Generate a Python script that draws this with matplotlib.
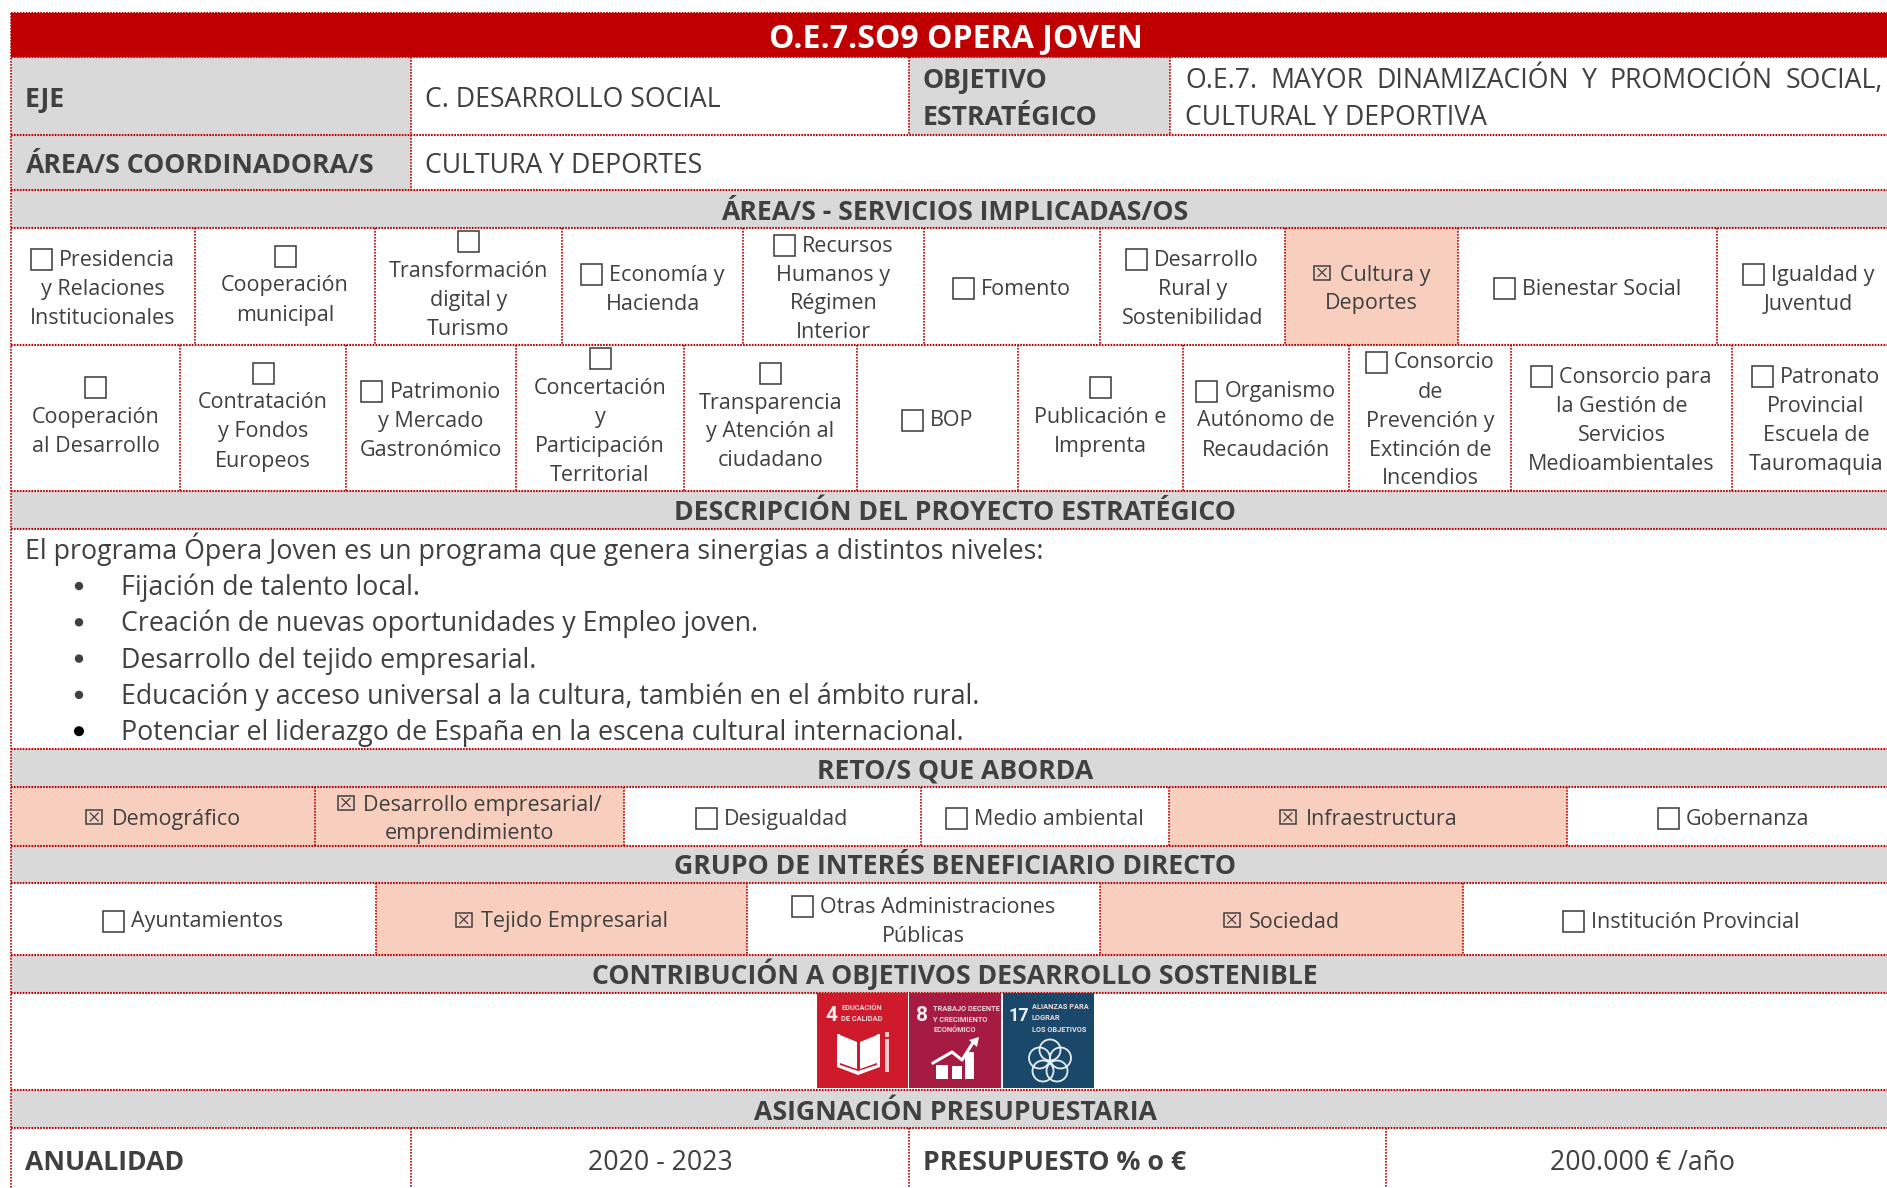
import matplotlib
matplotlib.use("Agg")
import matplotlib.pyplot as plt
from matplotlib.patches import Rectangle, Polygon, Circle

# set constants
W = 1887; H = 1188; TABLE_RIGHT = 1900
RED = "#C00000"; GREY = "#D9D9D9"; PEACH = "#F8CFBE"; INK = "#404040"
FONT = "Open Sans"; TILE_FONT = "Roboto"
BODY = 15.45; BIG = 19.2; LABEL = 19.2; DESC = 19.3; TITLE = 23.0

# --- data (text only) --- #
title = "O.E.7.SO9 OPERA JOVEN"
headers = ["ÁREA/S - SERVICIOS IMPLICADAS/OS", "DESCRIPCIÓN DEL PROYECTO ESTRATÉGICO",
           "RETO/S QUE ABORDA", "GRUPO DE INTERÉS BENEFICIARIO DIRECTO",
           "CONTRIBUCIÓN A OBJETIVOS DESARROLLO SOSTENIBLE", "ASIGNACIÓN PRESUPUESTARIA"]

# a leading \n means the checkbox sits alone on its own line
services_1 = ["Presidencia\ny Relaciones\nInstitucionales", "\nCooperación\nmunicipal",
              "\nTransformación\ndigital y\nTurismo", "Economía y\nHacienda",
              "Recursos\nHumanos y\nRégimen\nInterior", "Fomento",
              "Desarrollo\nRural y\nSostenibilidad", "Cultura y\nDeportes",
              "Bienestar Social", "Igualdad y\nJuventud"]
services_1_on = [0, 0, 0, 0, 0, 0, 0, 1, 0, 0]
services_2 = ["\nCooperación\nal Desarrollo", "\nContratación\ny Fondos\nEuropeos",
              "Patrimonio\ny Mercado\nGastronómico", "\nConcertación\ny\nParticipación\nTerritorial",
              "\nTransparencia\ny Atención al\nciudadano", "BOP", "\nPublicación e\nImprenta",
              "Organismo\nAutónomo de\nRecaudación", "Consorcio\nde\nPrevención y\nExtinción de\nIncendios",
              "Consorcio para\nla Gestión de\nServicios\nMedioambientales",
              "Patronato\nProvincial\nEscuela de\nTauromaquia"]
services_2_on = [0] * 11
retos = ["Demográfico", "Desarrollo empresarial/\nemprendimiento", "Desigualdad",
         "Medio ambiental", "Infraestructura", "Gobernanza"]
retos_on = [1, 1, 0, 0, 1, 0]
grupos = ["Ayuntamientos", "Tejido Empresarial", "Otras Administraciones\nPúblicas",
          "Sociedad", "Institución Provincial"]
grupos_on = [0, 1, 0, 1, 0]
intro = "El programa Ópera Joven es un programa que genera sinergias a distintos niveles:"
bullets = ["Fijación de talento local.", "Creación de nuevas oportunidades y Empleo joven.",
           "Desarrollo del tejido empresarial.",
           "Educación y acceso universal a la cultura, también en el ámbito rural.",
           "Potenciar el liderazgo de España en la escena cultural internacional."]
objective_1 = "O.E.7. MAYOR DINAMIZACIÓN Y PROMOCIÓN SOCIAL,"
objective_2 = "CULTURAL Y DEPORTIVA"

# --- layout (pixels) --- #
service_1_x = [11, 195, 375, 562, 743, 924, 1100, 1285, 1458, 1717, TABLE_RIGHT]
service_2_x = [11, 180, 346, 516, 684, 857, 1018, 1183, 1349, 1511, 1732, TABLE_RIGHT]
retos_x = [11, 315, 624, 921, 1169, 1567, TABLE_RIGHT]
grupos_x = [11, 376, 747, 1100, 1463, TABLE_RIGHT]
header_y = [(190, 228), (491, 529), (749, 787), (846, 883), (955, 993), (1090, 1128)]

fig = plt.figure(figsize=(W / 100, H / 100), dpi=100, facecolor="white")
ax = fig.add_axes([0, 0, 1, 1])
ax.set_xlim(0, W); ax.set_ylim(H, 0); ax.axis("off")
renderer = fig.canvas.get_renderer()


def label(x, y, s, size=BODY, weight="normal", color=INK, ha="left"):
    return ax.text(x, y, s, fontsize=size, fontweight=weight, color=color, ha=ha, va="baseline",
                   family=[FONT, "DejaVu Sans"], zorder=5)


def width(s, size=BODY, weight="normal"):
    t = label(0, 0, s, size, weight)
    w = t.get_window_extent(renderer).width
    t.remove()
    return w


def fill(x0, y0, x1, y1, color):
    ax.add_patch(Rectangle((x0, y0), x1 - x0, y1 - y0, fc=color, ec="none", zorder=1))


def hline(y, x0=11, x1=TABLE_RIGHT):
    ax.plot([x0, x1], [y, y], color=RED, lw=1.5, ls=(0, (0.8, 0.6)), zorder=3)


def vline(x, y0, y1):
    ax.plot([x, x], [y0, y1], color=RED, lw=1.2, ls=(0, (1, 0.8)), zorder=3)


def checkbox(x, base, on):
    if on:
        ax.add_patch(Rectangle((x + 1, base - 15), 16, 14, fc="none", ec=INK, lw=1.1, zorder=4))
        ax.plot([x + 5, x + 13], [base - 12, base - 4], color=INK, lw=0.9, zorder=4)
        ax.plot([x + 5, x + 13], [base - 4, base - 12], color=INK, lw=0.9, zorder=4)
        return
    ax.add_patch(Rectangle((x, base - 17), 21, 21, fc="none", ec=INK, lw=1.15, zorder=4))


def cell_text(x0, x1, y0, y1, text, on):
    lines = text.split("\n")
    n = len(lines)
    mid = (x0 + x1) / 2
    first = (y0 + y1) / 2 + 8.5 - (n - 1) / 2 * 29
    if lines[0] == "":
        first -= 3.5
    box_w = 17 if on else 21
    gap = 9.5 if on else 7
    for i, s in enumerate(lines):
        base = first + i * 29
        if i == 0:
            if s == "":
                checkbox(mid - box_w / 2, base, on)
            else:
                total = box_w + gap + width(s)
                start = mid - total / 2
                checkbox(start, base, on)
                label(start + box_w + gap, base, s)
        else:
            label(mid, base, s, ha="center")


def cell_row(xs, y0, y1, texts, flags):
    for i, s in enumerate(texts):
        if flags[i]:
            fill(xs[i], y0, xs[i + 1], y1, PEACH)
        cell_text(xs[i], xs[i + 1], y0, y1, s, flags[i])
        if i > 0:
            vline(xs[i], y0, y1)


# --- title band --- #
fill(11, 13, TABLE_RIGHT, 57, RED)
hline(13)
label(955.5, 47, title, TITLE, "bold", "white", "center")

# --- EJE / objetivo --- #
fill(11, 57, 411, 135, GREY); fill(909, 57, 1170, 135, GREY)
fill(11, 135, 411, 190, GREY)
label(25, 107, "EJE", BIG, "bold")
label(425, 107, "C. DESARROLLO SOCIAL", BIG)
label(923, 88, "OBJETIVO", BIG, "bold")
label(923, 125, "ESTRATÉGICO", BIG, "bold")

# first objective line is justified out to the clipped page edge
words = objective_1.split(" ")
space = (1883 - 1185 - sum(width(w, BIG) for w in words)) / (len(words) - 1)
x = 1185
for w in words:
    label(x, 88, w, BIG)
    x += width(w, BIG) + space
label(1185, 125, objective_2, BIG)

label(25, 173, "ÁREA/S COORDINADORA/S", BIG, "bold")
label(425, 173, "CULTURA Y DEPORTES", BIG)
vline(411, 57, 190); vline(909, 57, 135); vline(1170, 57, 135)

# --- grey section headers --- #
for (y0, y1), s in zip(header_y, headers):
    fill(11, y0, TABLE_RIGHT, y1, GREY)
    label(955, y1 - 8.5, s, LABEL, "bold", ha="center")

# --- checkbox rows --- #
cell_row(service_1_x, 228, 345, services_1, services_1_on)
cell_row(service_2_x, 345, 491, services_2, services_2_on)
cell_row(retos_x, 787, 846, retos, retos_on)
cell_row(grupos_x, 883, 955, grupos, grupos_on)

# --- description --- #
label(25, 559, intro, DESC)
for i, s in enumerate(bullets):
    base = 595 + i * 36.3
    ax.add_patch(Circle((79, base - 9), 4.2 if i < 4 else 5, fc=INK if i < 4 else "black", ec="none", zorder=4))
    label(121, base, s, DESC)

# --- SDG tiles --- #
sdg_numbers = ["4", "8", "17"]
sdg_titles = [["EDUCACIÓN", "DE CALIDAD"], ["TRABAJO DECENTE", "Y CRECIMIENTO", "ECONÓMICO"],
              ["ALIANZAS PARA", "LOGRAR", "LOS OBJETIVOS"]]
sdg_colors = ["#CE1A2B", "#A61B41", "#19486A"]
sdg_x = [817, 909, 1003]
sdg_w = [91, 92, 91]
sdg_num_x = [8, 7, 6]
sdg_num_size = [15, 15, 13]
sdg_text_x = [24, 24, 29]
sdg_text_y = [[1010, 1021], [1011, 1021.5, 1032], [1009, 1019.5, 1032]]
for i in range(3):
    x0 = sdg_x[i]
    ax.add_patch(Rectangle((x0, 993), sdg_w[i], 95, fc=sdg_colors[i], ec="none", zorder=4))
    ax.text(x0 + sdg_num_x[i], 1021, sdg_numbers[i], fontsize=sdg_num_size[i], fontweight="bold", color="white",
            family=TILE_FONT, zorder=5, va="baseline", alpha=0.92)
    for j, s in enumerate(sdg_titles[i]):
        ax.text(x0 + sdg_text_x[i], sdg_text_y[i][j], s, fontsize=5.3, fontweight="bold",
                color="#F3DDE0", family=TILE_FONT, zorder=5, va="baseline")

# book
x0 = sdg_x[0]
ax.add_patch(Polygon([(x0 + 20, 1034), (x0 + 20, 1067), (x0 + 41, 1075), (x0 + 63, 1067), (x0 + 63, 1034),
                      (x0 + 60, 1034), (x0 + 60, 1065), (x0 + 41, 1071), (x0 + 23, 1065), (x0 + 23, 1034)],
                     fc="white", ec="none", zorder=5))
ax.add_patch(Polygon([(x0 + 23, 1035), (x0 + 40, 1042), (x0 + 40, 1069), (x0 + 23, 1063)], fc="white", ec="none", zorder=5))
ax.add_patch(Polygon([(x0 + 43, 1042), (x0 + 60, 1035), (x0 + 60, 1063), (x0 + 43, 1069)], fc="white", ec="none", zorder=5))
ax.add_patch(Rectangle((x0 + 68, 1039), 4, 33, fc="#F4C9CC", ec="none", zorder=5))
ax.add_patch(Rectangle((x0 + 68, 1032), 4, 5, fc="#F4C9CC", ec="none", zorder=5))

# growth chart
x0 = sdg_x[1]
for bx, bw, btop in [(27, 12, 1065), (43, 10, 1066), (56, 9, 1052)]:
    ax.add_patch(Rectangle((x0 + bx, btop), bw, 1079 - btop, fc="white", ec="none", zorder=5))
ax.plot([x0 + 24, x0 + 43, x0 + 53, x0 + 65], [1063, 1052, 1060, 1041], color="white", lw=2.2, zorder=6)
ax.add_patch(Polygon([(x0 + 60, 1040), (x0 + 70, 1037), (x0 + 68, 1047)], fc="white", ec="none", zorder=6))

# partnership rings
x0 = sdg_x[2] + 47
for cx, cy in [(0, -12), (-10.5, -4), (10.5, -4), (-7, 9), (7, 9)]:
    ax.add_patch(Circle((x0 + cx, 1062 + cy), 10.5, fc="none", ec="#E8EEF3", lw=1.3, zorder=5))

# --- last row --- #
label(25, 1170, "ANUALIDAD", BIG, "bold")
label(660, 1170, "2020 - 2023", BIG, ha="center")
label(923, 1170, "PRESUPUESTO % o €", BIG, "bold")
label(1643, 1170, "200.000 € /año", BIG, ha="center")
vline(411, 1128, H); vline(909, 1128, H); vline(1386, 1128, H)

# --- rules --- #
for y in [57, 135, 190, 228, 345, 491, 529, 749, 787, 846, 883, 955, 993, 1090, 1128]:
    hline(y)
vline(11, 13, H)

plt.savefig("out.png", dpi=100)
